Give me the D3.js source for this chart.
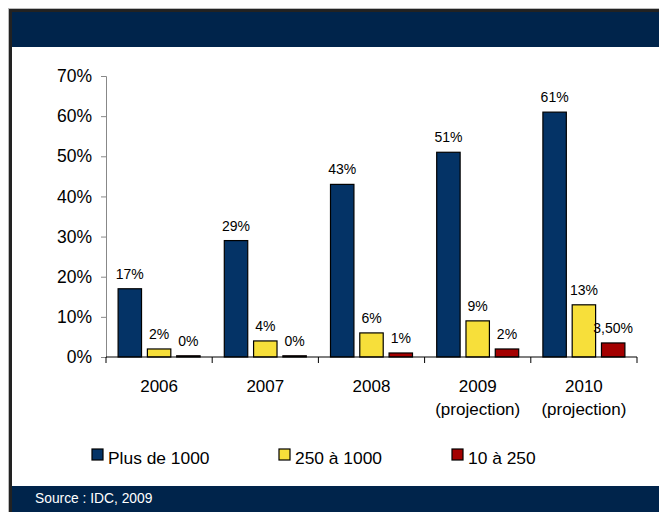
<!DOCTYPE html>
<html><head><meta charset="utf-8">
<script src="https://cdn.jsdelivr.net/npm/d3@7"></script>
<style>html,body{margin:0;padding:0;background:#fff;}svg{display:block;font-family:"Liberation Sans",Arial,sans-serif;}</style>
</head><body>
<svg id="c" width="659" height="512"></svg>
<script>
const categories = [["2006"],["2007"],["2008"],["2009","(projection)"],["2010","(projection)"]];
const seriesNames = ["Plus de 1000","250 à 1000","10 à 250"];
const plus1000 = [17,29,43,51,61];
const s250_1000 = [2,4,6,9,13];
const s10_250 = [0.3,0.3,1,2,3.5];
const valueLabels = [["17%","29%","43%","51%","61%"],["2%","4%","6%","9%","13%"],["0%","0%","1%","2%","3,50%"]];
const yTicks = [0,10,20,30,40,50,60,70];
const colors = ["#043366","#f7df3a","#a30000"];
const source = "Source : IDC, 2009";

const svg = d3.select("#c");
// frame
svg.append("rect").attr("x",8).attr("y",8).attr("width",651).attr("height",504).attr("fill","#fff");
svg.append("line").attr("x1",8).attr("x2",659).attr("y1",8.5).attr("y2",8.5).attr("stroke","#bbb");
svg.append("line").attr("x1",8.5).attr("x2",8.5).attr("y1",8).attr("y2",512).attr("stroke","#bbb");
svg.append("rect").attr("x",9).attr("y",9).attr("width",650).attr("height",3).attr("fill","#222");
svg.append("rect").attr("x",9).attr("y",9).attr("width",3).attr("height",503).attr("fill","#222");
svg.append("rect").attr("x",12).attr("y",12).attr("width",647).attr("height",35).attr("fill","#00244b");
svg.append("rect").attr("x",12).attr("y",486).attr("width",647).attr("height",26).attr("fill","#00244b");
svg.append("text").attr("x",35).attr("y",503).attr("fill","#fff").attr("font-size",13.8).text(source);

const x0 = d3.scaleBand().domain(d3.range(categories.length)).range([106,637]);
const y = d3.scaleLinear().domain([0,70]).range([357,76]);
const x1 = d3.scaleBand().domain(d3.range(3)).range([-41,41]).paddingInner(0.2);

// y axis
const ya = svg.append("g").attr("transform","translate(106,0)")
  .call(d3.axisLeft(y).tickValues(yTicks).tickSize(5).tickFormat(d=>d+"%"));
ya.attr("font-family",null).attr("font-size",null);
ya.select(".domain").attr("stroke","#888");
ya.selectAll(".tick line").attr("stroke","#888");
ya.selectAll(".tick text").attr("font-size",17.5).attr("fill","#000").attr("x",-14);

// bars
const data = [plus1000,s250_1000,s10_250];
data.forEach((vals,si)=>{
  svg.append("g").selectAll("rect").data(vals).join("rect")
    .attr("x",(d,i)=>x0(i)+x0.bandwidth()/2+x1(si))
    .attr("width",x1.bandwidth())
    .attr("y",d=>y(d))
    .attr("height",d=>y(0)-y(d))
    .attr("fill",colors[si]).attr("stroke","#000").attr("stroke-width",1.2);
  svg.append("g").selectAll("text").data(vals).join("text")
    .attr("x",(d,i)=>x0(i)+x0.bandwidth()/2+x1(si)+x1.bandwidth()/2)
    .attr("y",d=>y(d)-10)
    .attr("text-anchor","middle").attr("font-size",14).attr("fill","#000")
    .text((d,i)=>valueLabels[si][i]);
});

// x axis
const xa = svg.append("g").attr("transform","translate(0,357)");
xa.append("line").attr("x1",106).attr("x2",637).attr("stroke","#000").attr("stroke-width",1.2);
const tickPos = d3.range(categories.length+1).map(i=> i<categories.length ? x0(i) : x0(i-1)+x0.bandwidth());
xa.selectAll("line.t").data(tickPos).join("line").attr("class","t")
  .attr("x1",d=>d).attr("x2",d=>d).attr("y1",0).attr("y2",6).attr("stroke","#000");
xa.selectAll("text").data(categories).join("text")
  .attr("text-anchor","middle").attr("font-size",17).attr("fill","#000")
  .attr("transform",(d,i)=>`translate(${x0(i)+x0.bandwidth()/2},0)`)
  .each(function(d){
    d3.select(this).selectAll("tspan").data(d).join("tspan")
      .attr("x",0).attr("y",(t,j)=>35+j*23).text(t=>t);
  });

// legend
const legX = [92,279,452];
seriesNames.forEach((n,i)=>{
  svg.append("rect").attr("x",legX[i]).attr("y",449).attr("width",11).attr("height",11)
    .attr("fill",colors[i]).attr("stroke","#000").attr("stroke-width",1.2);
  svg.append("text").attr("x",legX[i]+16).attr("y",464).attr("font-size",17.4).attr("fill","#000").text(n);
});
</script>
</body></html>
